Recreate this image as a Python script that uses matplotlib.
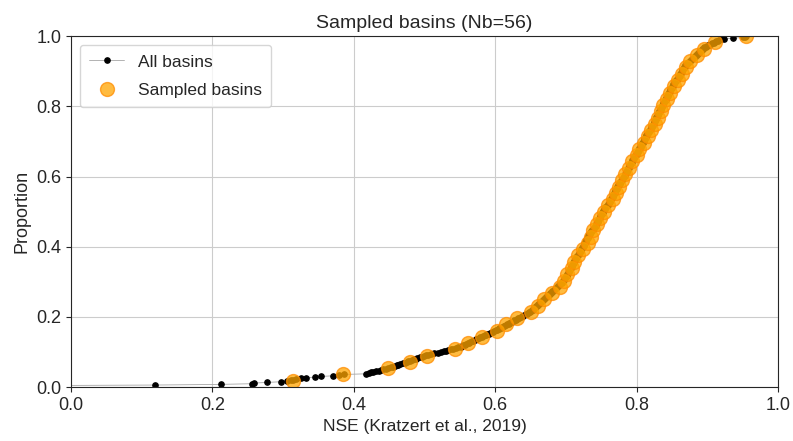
import numpy as np
import matplotlib
matplotlib.use('Agg')
import matplotlib.pyplot as plt
import seaborn as sns

# NSE of all basins (Kratzert et al., 2019), sorted
nse_all = [
    -0.412, -0.087,
    0.119, 0.212, 0.256, 0.259, 0.277, 0.297,
    0.305, 0.311, 0.314, 0.319, 0.326, 0.332, 0.345, 0.353, 0.371, 0.379, 0.386,
    0.418, 0.421, 0.424, 0.427, 0.431, 0.435, 0.438, 0.442, 0.446, 0.449,
    0.452, 0.455, 0.458, 0.461, 0.463, 0.466, 0.469, 0.472, 0.475, 0.477,
    0.479, 0.482, 0.485, 0.488, 0.490, 0.493, 0.496, 0.499,
    0.502, 0.505, 0.509, 0.514, 0.519, 0.524, 0.527, 0.530, 0.534, 0.538,
    0.541, 0.544, 0.548,
    0.551, 0.553, 0.555, 0.557, 0.559, 0.561, 0.563, 0.565, 0.567, 0.569,
    0.571, 0.573, 0.575, 0.577, 0.579, 0.581, 0.583, 0.585, 0.587, 0.589,
    0.591, 0.593, 0.595, 0.597, 0.599,
    0.601, 0.603, 0.605, 0.606, 0.608, 0.610, 0.612, 0.613, 0.615, 0.617,
    0.619, 0.620, 0.622, 0.624, 0.626, 0.627, 0.629, 0.631, 0.633, 0.634,
    0.636, 0.638, 0.640, 0.641, 0.643, 0.645, 0.646, 0.648, 0.649,
    0.651, 0.652, 0.653, 0.654, 0.655, 0.656, 0.657, 0.658, 0.659, 0.660,
    0.661, 0.662, 0.663, 0.664, 0.665, 0.666, 0.667, 0.668, 0.669, 0.670,
    0.671, 0.672, 0.673, 0.674, 0.675, 0.676, 0.677, 0.678, 0.679, 0.680,
    0.681, 0.682, 0.683, 0.684, 0.685, 0.686, 0.687, 0.688, 0.689, 0.690,
    0.691, 0.692, 0.693, 0.694, 0.695, 0.696, 0.696, 0.697, 0.697, 0.698,
    0.699, 0.699,
    0.700, 0.701, 0.701, 0.702, 0.702, 0.703, 0.703, 0.704, 0.704, 0.705,
    0.705, 0.706, 0.706, 0.707, 0.707, 0.708, 0.708, 0.709, 0.709, 0.710,
    0.710, 0.711, 0.711, 0.712, 0.712, 0.713, 0.713, 0.714, 0.714, 0.715,
    0.715, 0.716, 0.716, 0.717, 0.718, 0.718, 0.719,
    0.720, 0.720, 0.721, 0.721, 0.722, 0.722, 0.723, 0.723, 0.724, 0.724,
    0.725, 0.725, 0.726, 0.726, 0.727, 0.727, 0.728, 0.728, 0.729, 0.729,
    0.730, 0.730, 0.731, 0.731, 0.732, 0.732, 0.733, 0.733, 0.734, 0.734,
    0.735, 0.736, 0.736, 0.737, 0.738, 0.739,
    0.740, 0.740, 0.741, 0.741, 0.742, 0.742, 0.743, 0.743, 0.744, 0.744,
    0.745, 0.745, 0.746, 0.746, 0.747, 0.747, 0.748, 0.748, 0.749, 0.749,
    0.750, 0.750, 0.751, 0.751, 0.752, 0.752, 0.753, 0.753, 0.754, 0.754,
    0.755, 0.756, 0.756, 0.757, 0.758, 0.759,
    0.760, 0.760, 0.761, 0.761, 0.762, 0.762, 0.763, 0.763, 0.764, 0.764,
    0.765, 0.765, 0.766, 0.766, 0.767, 0.767, 0.768, 0.768, 0.769, 0.769,
    0.770, 0.770, 0.771, 0.771, 0.772, 0.772, 0.773, 0.773, 0.774, 0.774,
    0.775, 0.775, 0.776, 0.776, 0.777, 0.777, 0.778, 0.779,
    0.780, 0.780, 0.781, 0.781, 0.782, 0.782, 0.783, 0.783, 0.784, 0.784,
    0.785, 0.785, 0.786, 0.786, 0.787, 0.787, 0.788, 0.788, 0.789, 0.789,
    0.790, 0.790, 0.791, 0.791, 0.792, 0.792, 0.793, 0.793, 0.794, 0.794,
    0.795, 0.795, 0.796, 0.796, 0.797, 0.797, 0.798, 0.799,
    0.800, 0.800, 0.801, 0.801, 0.802, 0.802, 0.803, 0.803, 0.804, 0.804,
    0.805, 0.805, 0.806, 0.806, 0.807, 0.807, 0.808, 0.808, 0.809, 0.809,
    0.810, 0.810, 0.811, 0.811, 0.812, 0.812, 0.813, 0.813, 0.814, 0.814,
    0.815, 0.815, 0.816, 0.816, 0.817, 0.817, 0.818, 0.819,
    0.820, 0.820, 0.821, 0.821, 0.822, 0.822, 0.823, 0.823, 0.824, 0.824,
    0.825, 0.825, 0.826, 0.826, 0.826, 0.827, 0.827, 0.828, 0.828, 0.829,
    0.829, 0.830, 0.830, 0.831, 0.831, 0.832, 0.832, 0.832, 0.833, 0.833,
    0.834, 0.834, 0.835, 0.835, 0.836, 0.836, 0.836, 0.837, 0.837, 0.838,
    0.838, 0.839, 0.839,
    0.840, 0.840, 0.841, 0.841, 0.842, 0.842, 0.843, 0.843, 0.844, 0.844,
    0.845, 0.845, 0.846, 0.846, 0.847, 0.847, 0.848, 0.848, 0.849, 0.849,
    0.850, 0.850, 0.851, 0.851, 0.852, 0.852, 0.853, 0.853, 0.854, 0.854,
    0.855, 0.856, 0.857, 0.857, 0.858, 0.859,
    0.860, 0.860, 0.861, 0.861, 0.862, 0.862, 0.863, 0.863, 0.864, 0.864,
    0.865, 0.865, 0.866, 0.866, 0.867, 0.867, 0.868, 0.868, 0.869, 0.870,
    0.871, 0.872, 0.873, 0.874, 0.875, 0.876, 0.877, 0.878, 0.879,
    0.880, 0.881, 0.882, 0.883, 0.884, 0.885, 0.886, 0.887, 0.888, 0.889,
    0.890, 0.891, 0.892, 0.893, 0.894, 0.895, 0.896, 0.898, 0.899,
    0.901, 0.903, 0.905, 0.907, 0.909, 0.911, 0.913, 0.915, 0.917, 0.919,
    0.924, 0.937,
    0.951, 0.953, 0.955,
]

# NSE of the 56 sampled basins, sorted
nse_sampled = [
    0.314, 0.385, 0.449, 0.479, 0.503, 0.543, 0.562, 0.582, 0.602, 0.616,
    0.631, 0.651, 0.660, 0.669, 0.681, 0.692, 0.697, 0.702, 0.708, 0.712,
    0.717, 0.724, 0.731, 0.735, 0.739, 0.744, 0.749, 0.754, 0.760, 0.767,
    0.771, 0.775, 0.780, 0.783, 0.789, 0.794, 0.800, 0.804, 0.810, 0.816,
    0.821, 0.826, 0.831, 0.834, 0.837, 0.843, 0.848, 0.853, 0.858, 0.864,
    0.870, 0.876, 0.885, 0.896, 0.911, 0.955,
]


def ecdf(v):
    v = np.sort(np.asarray(v))
    return v, np.arange(1, len(v) + 1) / len(v)


sns.set_style('ticks', {'axes.grid': True})
plt.rcParams['font.family'] = ['Liberation Sans', 'DejaVu Sans']

fig, ax = plt.subplots(figsize=(7.93, 4.41), dpi=100)
fig.subplots_adjust(left=0.0895, right=0.981, bottom=0.1224, top=0.918)

x_all, y_all = ecdf(nse_all)
x_s, y_s = ecdf(nse_sampled)

ax.plot(x_all, y_all, color='0.65', lw=0.6, marker='o', ms=3.8,
        mfc='k', mec='k', label='All basins')
ax.plot(x_s, y_s, ls='none', marker='o', ms=10, color='orange',
        mec='darkorange', alpha=0.75, label='Sampled basins')

ax.set_xlim(0, 1)
ax.set_ylim(0, 1)
ax.set_xlabel('NSE (Kratzert et al., 2019)', fontsize=12.5)
ax.set_ylabel('Proportion', fontsize=13)
ax.set_title('Sampled basins (Nb=56)', fontsize=14)
ax.tick_params(labelsize=13)
ax.legend(loc='upper left', fontsize=12.5, labelspacing=0.75,
          borderpad=0.55)

plt.savefig('out.png', dpi=100)
